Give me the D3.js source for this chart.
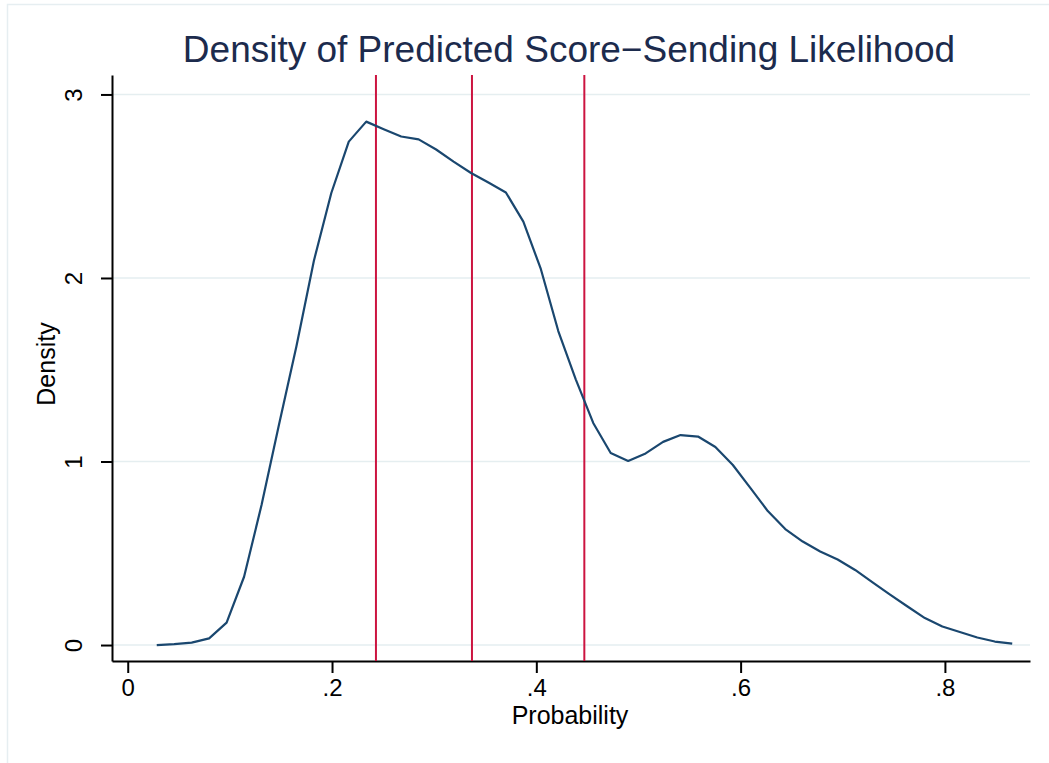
<!DOCTYPE html>
<html>
<head>
<meta charset="utf-8">
<script src="https://cdn.jsdelivr.net/npm/d3@7"></script>
<style>
  body { margin: 0; background: #fff; }
  svg { display: block; font-family: "Liberation Sans", Arial, sans-serif; }
</style>
</head>
<body>
<svg id="chart" width="1049" height="763"></svg>
<script>
// kernel density estimate, 50 evaluation points
var probability = [0.0284, 0.0455, 0.0626, 0.0797, 0.0968, 0.1139, 0.1310, 0.1480, 0.1651, 0.1822,
    0.1993, 0.2164, 0.2335, 0.2506, 0.2677, 0.2848, 0.3019, 0.3190, 0.3361, 0.3531,
    0.3702, 0.3873, 0.4044, 0.4215, 0.4386, 0.4557, 0.4728, 0.4899, 0.5070, 0.5241,
    0.5412, 0.5583, 0.5753, 0.5924, 0.6095, 0.6266, 0.6437, 0.6608, 0.6779, 0.6950,
    0.7121, 0.7292, 0.7463, 0.7634, 0.7804, 0.7975, 0.8146, 0.8317, 0.8488, 0.8659];

var density = [0.000, 0.005, 0.013, 0.036, 0.122, 0.372, 0.763, 1.199, 1.627, 2.093,
    2.463, 2.743, 2.852, 2.811, 2.771, 2.755, 2.700, 2.634, 2.572, 2.520,
    2.466, 2.307, 2.049, 1.711, 1.448, 1.210, 1.046, 1.003, 1.044, 1.107,
    1.144, 1.136, 1.079, 0.981, 0.856, 0.730, 0.632, 0.564, 0.510, 0.466,
    0.409, 0.341, 0.275, 0.210, 0.147, 0.101, 0.071, 0.041, 0.019, 0.008];

// vertical reference lines
var cutoffs = [0.243, 0.337, 0.447];

var xTicks = [0, 0.2, 0.4, 0.6, 0.8];
var yTicks = [0, 1, 2, 3];

var svg = d3.select("#chart");

// outer graph region frame (only the left and top edges are in the picture)
svg.append("path")
    .attr("d", "M7.5,763V4.5H1049")
    .attr("fill", "none")
    .attr("stroke", "#e6eef1")
    .attr("stroke-width", 1.5);

// scales cover the full plot region
var x = d3.scaleLinear()
    .domain([-0.0154, 0.8833])
    .range([112, 1030]);

var y = d3.scaleLinear()
    .domain([-0.087, 3.106])
    .range([661, 75]);

// gridlines
svg.append("g")
    .selectAll("line")
    .data(yTicks)
    .enter()
    .append("line")
    .attr("x1", x.range()[0])
    .attr("x2", x.range()[1])
    .attr("y1", d => y(d))
    .attr("y2", d => y(d))
    .attr("stroke", "#e5eef0")
    .attr("stroke-width", 1.5);

// x axis
var xAxis = svg.append("g")
    .attr("transform", "translate(0," + y.range()[0] + ")")
    .call(d3.axisBottom(x)
        .tickValues(xTicks)
        .tickSize(12)
        .tickSizeOuter(0)
        .tickPadding(6)
        .tickFormat(d => d === 0 ? "0" : d3.format(".1f")(d).replace(/^0/, "")));

xAxis.select(".domain").attr("stroke", "#000").attr("stroke-width", 2);
xAxis.selectAll(".tick line").attr("stroke", "#000").attr("stroke-width", 2);
xAxis.selectAll(".tick text")
    .attr("fill", "#000")
    .style("font-size", "24px")
    .style("font-family", "Liberation Sans, Arial, sans-serif");

// y axis with rotated tick labels
var yAxis = svg.append("g")
    .attr("transform", "translate(" + x.range()[0] + ",0)")
    .call(d3.axisLeft(y)
        .tickValues(yTicks)
        .tickSize(11)
        .tickSizeOuter(0)
        .tickFormat(d3.format("d")));

yAxis.select(".domain").attr("stroke", "#000").attr("stroke-width", 2);
yAxis.selectAll(".tick line").attr("stroke", "#000").attr("stroke-width", 2);
yAxis.selectAll(".tick text")
    .attr("fill", "#000")
    .attr("x", 0)
    .attr("y", -30)
    .attr("dy", 0)
    .attr("transform", "rotate(-90)")
    .attr("text-anchor", "middle")
    .style("font-size", "24px")
    .style("font-family", "Liberation Sans, Arial, sans-serif");

// red reference lines
svg.append("g")
    .selectAll("line")
    .data(cutoffs)
    .enter()
    .append("line")
    .attr("x1", d => x(d))
    .attr("x2", d => x(d))
    .attr("y1", y.range()[1])
    .attr("y2", y.range()[0])
    .attr("stroke", "#cc1440")
    .attr("stroke-width", 2);

// density curve
var points = probability.map((p, i) => [p, density[i]]);

var line = d3.line()
    .x(d => x(d[0]))
    .y(d => y(d[1]));

svg.append("path")
    .datum(points)
    .attr("d", line)
    .attr("fill", "none")
    .attr("stroke", "#1a476f")
    .attr("stroke-width", 2.2)
    .attr("stroke-linejoin", "round");

// titles
svg.append("text")
    .attr("x", 569)
    .attr("y", 62)
    .attr("text-anchor", "middle")
    .attr("fill", "#1c2b4d")
    .style("font-size", "37px")
    .text("Density of Predicted Score\u2212Sending Likelihood");

svg.append("text")
    .attr("x", 570)
    .attr("y", 724)
    .attr("text-anchor", "middle")
    .attr("fill", "#000")
    .style("font-size", "25px")
    .text("Probability");

svg.append("text")
    .attr("transform", "translate(55,364) rotate(-90)")
    .attr("text-anchor", "middle")
    .attr("fill", "#000")
    .style("font-size", "25px")
    .text("Density");
</script>
</body>
</html>
